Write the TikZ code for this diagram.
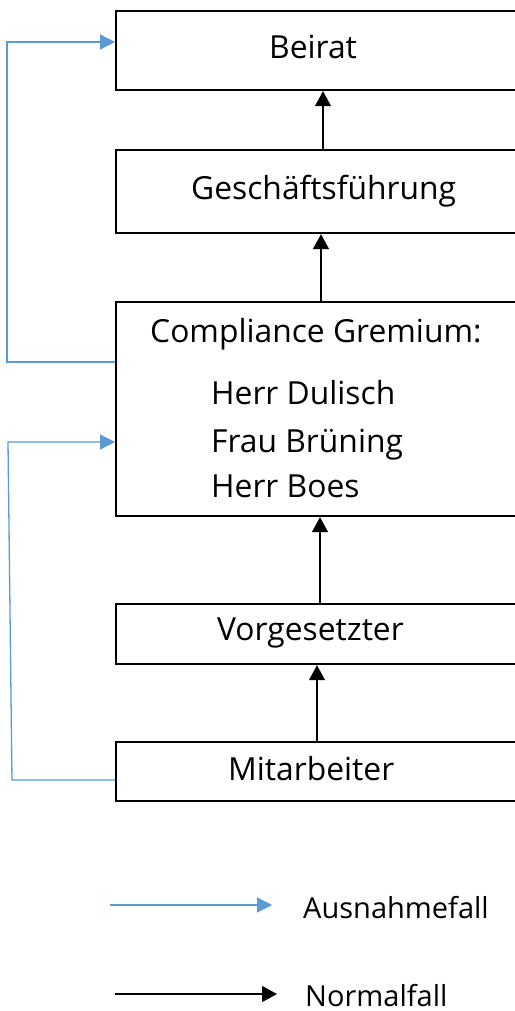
\documentclass[tikz,border=0pt]{standalone}
\usepackage{fontspec}
\setmainfont{Open Sans}
\usetikzlibrary{arrows.meta}
\definecolor{ablue}{HTML}{5B9BD5}
\begin{document}
\begin{tikzpicture}[x=1pt,y=-1pt,
  box/.style={draw=black,line width=2.2pt,rectangle,inner sep=0pt},
  txt/.style={anchor=base west,inner sep=0pt,font=\fontsize{31.8}{38}\selectfont},
  legtxt/.style={anchor=base west,inner sep=0pt,font=\fontsize{29}{34}\selectfont},
  normal/.style={draw=black,line width=1.3pt,-{Triangle[width=16pt,length=15pt]}},
  ausnahme/.style={draw=ablue,line width=1.3pt,-{Triangle[width=15pt,length=15pt]}}]
\useasboundingbox (0,0) rectangle (514,1011);
\fill[white] (0,0) rectangle (514,1011);
% boxes
\node[box,minimum width=425pt,minimum height=79pt,anchor=north west] (beirat) at (115,10) {};
\node[box,minimum width=425pt,minimum height=83pt,anchor=north west] (gf) at (115,149) {};
\node[box,minimum width=425pt,minimum height=214pt,anchor=north west] (cg) at (115,301) {};
\node[box,minimum width=425pt,minimum height=60pt,anchor=north west] (vg) at (115,603) {};
\node[box,minimum width=425pt,minimum height=59pt,anchor=north west] (ma) at (115,741) {};
% texts
\node[txt] (tb) at (269,59) {Beirat};
\node[txt] (tg) at (191,200) {Geschäftsführung};
\node[txt] (tc) at (150,342) {Compliance Gremium:};
\node[txt] (t1) at (211,404) {Herr Dulisch};
\node[txt] (t2) at (211,452) {Frau Brüning};
\node[txt] (t3) at (211,497) {Herr Boes};
\node[txt] (tv) at (217,640) {Vorgesetzter};
\node[txt] (tm) at (228,780) {Mitarbeiter};
\node[legtxt] (la) at (303,918) {Ausnahmefall};
\node[legtxt] (ln) at (305,1006) {Normalfall};
% normal arrows
\draw[normal] (gf.north -| 323,0) -- (beirat.south -| 323,0);
\draw[normal] (cg.north -| 321,0) -- (gf.south -| 321,0);
\draw[normal] (vg.north -| 320,0) -- (cg.south -| 320,0);
\draw[normal] (ma.north -| 317,0) -- (vg.south -| 317,0);
% exception arrows
\draw[ausnahme] (cg.west |- 0,362) -- (7,362) -- (7,42) -- (beirat.west |- 0,42);
\draw[ausnahme] (ma.west |- 0,780) -- (12,780) -- (8,442) -- (cg.west |- 0,442);
% legend
\coordinate (a1) at (110,905);
\coordinate (a2) at (272,905);
\coordinate (n1) at (115,994);
\coordinate (n2) at (277,994);
\draw[ausnahme] (a1) -- (a2);
\draw[normal] (n1) -- (n2);
\end{tikzpicture}
\end{document}
